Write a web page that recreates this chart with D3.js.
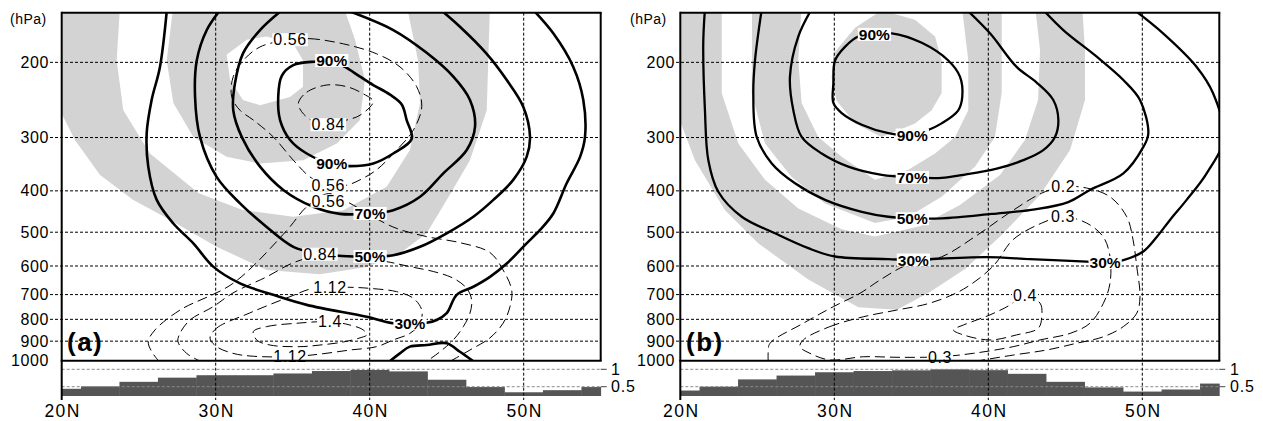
<!DOCTYPE html>
<html><head><meta charset="utf-8">
<script src="https://cdn.jsdelivr.net/npm/d3@7"></script>
<style>body{margin:0;background:#fff}svg{display:block}</style>
</head><body>
<svg id="c" width="1263" height="421"></svg>
<script>
// ---------------- data ----------------
const pressureTicks = [200,300,400,500,600,700,800,900,1000];
const latTicks = [20,30,40,50];
const latTickLabels = ["20N","30N","40N","50N"];
const stripTicks = [1,0.5];
const stripTickLabels = ["1","0.5"];
const barLats = [20,22.5,25,27.5,30,32.5,35,37.5,40,42.5,45,47.5,50,52.5,55];
const barsA = [0.44,0.51,0.64,0.76,0.83,0.83,0.88,0.95,0.98,0.94,0.70,0.49,0.34,0.40,0.49];
const barsB = [0.39,0.50,0.71,0.82,0.915,0.95,0.97,1.0,0.975,0.87,0.64,0.48,0.36,0.42,0.59];

// shading polygons [lat, hPa]
const aShadeOuter = [[19.89,147],[19.89,259],[20.86,304],[22.49,367],[24.65,420],[26.82,463],[30.06,541],[33.31,613],[36.77,627],[39.81,603],[41.97,560],[43.70,503],[45.0,420],[46.51,339],[47.60,259],[47.81,147],
  [42.40,147],[43.14,198],[43.27,249],[42.61,321],[41.10,391],[38.29,444],[35.04,460],[31.79,444],[28.9,405],[25.73,327],[24.0,259],[23.57,198],[23.79,147]];
const aShadeInnerRing = [[27.25,147],[26.82,198],[27.25,249],[28.55,299],[30.71,333],[32.88,345],[35.69,339],[37.86,310],[39.37,273],[39.69,220],[39.05,177],[38.27,147]];
const aShadeInnerHole = [[30.71,192],[32.01,177],[33.31,174],[35.04,181],[35.67,198],[35.67,228],[34.82,241],[32.88,252],[31.77,245],[30.93,220]];
const bShadeOuter = [[19.72,147],[19.72,259],[20.95,339],[22.90,444],[25.06,531],[28.31,645],[31.56,750],[34.07,760],[36.21,690],[38.49,610],[40.76,512],[43.36,409],[45.31,321],[46.28,245],[46.28,187],[46.09,147],
  [43.03,147],[43.36,187],[43.23,245],[42.38,304],[40.76,367],[38.16,432],[35.56,484],[32.64,512],[30.48,492],[27.66,440],[25.50,377],[23.77,310],[22.69,236],[22.69,147]];
const bShadeInnerRing = [[24.66,147],[24.64,236],[25.50,310],[27.23,371],[29.40,428],[32.64,476],[34.81,460],[36.97,413],[39.14,351],[40.43,299],[40.87,236],[40.87,147],
  [38.27,147],[38.70,198],[38.70,259],[37.84,299],[36.54,327],[34.81,357],[32.64,377],[30.48,333],[28.96,299],[27.88,249],[27.66,198],[27.88,147]];
const bShadeCore = [[29.83,218],[29.94,191],[31.35,166],[33.08,151],[35.24,159],[36.54,174],[36.97,198],[36.97,236],[36.32,259],[35.24,278],[33.08,299],[31.35,278],[30.15,246]];

// panel (a) solid contours
const aC90 = [[37.53,198],[38.40,205],[39.37,216],[40.23,226],[41.32,238],[42.08,251],[42.40,273],[42.73,302],[41.53,327],[40.23,345],[38.72,350],[37.53,346],[35.91,327],[34.83,304],[34.18,273],[34.06,241],[34.29,215],[35.04,203],[36.56,199]];
const aC70 = [[34.39,150],[32.88,168],[31.79,190],[31.25,224],[31.14,259],[31.69,299],[32.88,351],[34.39,398],[36.34,436],[38.07,453],[40.02,452],[41.53,444],[43.27,413],[44.78,364],[46.30,321],[46.84,283],[46.51,245],[45.43,216],[43.70,190],[41.53,168],[38.51,151]];
const aC50 = [[30.28,151],[29.42,168],[28.77,198],[28.66,241],[28.98,299],[30.06,371],[31.58,428],[33.31,486],[35.04,541],[36.56,560],[38.94,570],[40.02,570],[41.53,566],[43.27,541],[45.0,503],[46.73,460],[48.03,420],[49.32,377],[50.19,333],[50.41,299],[49.97,254],[48.90,220],[47.60,191],[45.86,165],[44.35,148]];
const aC30 = [[26.85,148],[26.38,205],[25.84,245],[25.52,293],[25.62,351],[26.17,420],[27.25,477],[28.55,531],[29.84,602],[31.58,659],[33.74,701],[35.91,740],[39.81,789],[41.53,817],[42.61,817],[43.70,815],[44.35,803],[45.0,774],[45.65,701],[46.73,671],[47.81,636],[48.90,592],[50.19,531],[51.06,494],[51.92,452],[52.79,384],[53.66,333],[53.98,299],[53.87,245],[53.22,205],[51.92,171],[50.41,148]];
const aC10 = [[41.2,1010],[41.96,961],[42.61,927],[43.70,919],[45.0,910],[45.86,953],[46.85,1010]];
// panel (a) dashed contours
const aD056u = [[34.83,177],[36.12,176],[38.29,181],[40.45,191],[41.97,205],[43.05,228],[43.38,254],[42.84,288],[41.75,321],[40.45,357],[39.37,377],[38.51,388],[37.31,391],[36.12,371],[35.04,339],[33.74,299],[32.44,273],[31.58,259],[31.04,241],[31.14,216],[31.79,198],[32.88,184]];
const aD084u = [[35.37,249],[35.91,235],[37.21,226],[38.51,228],[39.58,237],[40.23,247],[39.37,266],[38.51,273],[37.31,280],[36.34,275],[35.58,261]];
const aD056l = [[26.38,1010],[25.86,954],[25.62,902],[26.06,847],[27.68,761],[31.12,659],[34.6,496],[35.91,436],[37.31,406],[38.51,424],[41.51,486],[43.70,512],[45.86,529],[47.81,558],[48.66,613],[49.22,683],[49.11,747],[48.66,817],[47.81,884],[46.51,944],[45.08,1010]];
const aD084l = [[29.19,1010],[28.11,961],[27.55,902],[27.68,863],[28.33,803],[29.84,747],[31.12,694],[33.31,636],[35.02,590],[36.77,566],[38.40,568],[41.10,586],[42.61,602],[44.13,618],[45.43,641],[46.30,677],[46.62,721],[46.51,774],[46.08,832],[45.43,894],[44.56,953],[43.59,1010]];
const aD112 = [[29.63,885],[30.06,839],[32.21,773],[34.82,708],[36.45,675],[38.72,673],[40.02,677],[41.75,689],[42.83,714],[43.38,761],[43.27,817],[42.61,863],[41.53,894],[40.45,927],[38.72,944],[36.77,965],[34.83,979],[32.23,975],[31.12,961],[30.06,927]];
const aD140 = [[32.44,855],[33.31,832],[35.47,816],[37.42,810],[38.72,825],[39.58,847],[39.81,870],[39.37,884],[38.29,904],[36.77,919],[35.47,927],[33.53,919],[32.66,894]];

// panel (b) solid contours
const bC90 = [[32.60,172],[33.73,171],[35.68,180],[37.40,198],[38.16,216],[38.31,241],[38.05,259],[36.97,278],[36.10,288],[35.06,296],[33.51,293],[31.78,280],[30.48,263],[29.94,249],[29.94,224],[30.05,198],[30.69,184],[31.56,174]];
const bC70 = [[28.53,150],[27.66,174],[27.12,216],[27.34,259],[27.88,299],[29.18,327],[30.91,351],[33.08,367],[35.06,372],[36.97,373],[38.38,367],[40.55,355],[42.27,339],[43.57,321],[44.33,299],[44.55,273],[44.22,245],[43.14,223],[41.84,205],[40.11,171],[38.38,148]];
const bC50 = [[25.29,150],[24.85,198],[24.74,236],[24.96,299],[25.94,345],[27.45,384],[29.40,420],[31.78,448],[33.51,460],[35.06,464],[36.97,464],[40.22,453],[43.03,442],[45.19,425],[46.60,398],[48.77,364],[50.06,316],[50.39,294],[49.85,245],[48.77,220],[47.04,194],[44.87,168],[43.36,148]];
const bC30 = [[21.60,150],[21.49,181],[21.60,259],[21.82,339],[22.47,402],[23.99,460],[26.15,503],[28.31,545],[30.05,570],[33.51,578],[35.13,581],[36.21,578],[39.90,572],[42.71,578],[46.39,586],[47.58,589],[48.77,581],[50.06,555],[50.94,513],[51.80,468],[52.88,420],[54.18,364],[55.3,300],[54.59,236],[53.53,205],[51.35,171],[49.19,148]];
// panel (b) dashed contours
const bD02 = [[25.71,1010],[25.71,952],[25.82,911],[27.99,817],[29.94,747],[31.67,695],[32.97,647],[34.70,597],[36.97,571],[39.14,512],[41.30,452],[43.47,405],[44.87,391],[46.39,394],[47.90,413],[48.99,460],[49.40,521],[49.64,602],[49.85,708],[49.64,774],[48.77,832],[47.47,879],[45.74,910],[43.79,944],[41.62,970],[39.03,1005]];
const bD03 = [[27.99,894],[29.71,832],[31.88,789],[34.05,761],[36.21,733],[38.38,680],[40.32,600],[41.62,520],[43.47,476],[44.85,460],[46.39,476],[47.47,513],[47.90,570],[47.90,659],[47.47,734],[46.60,817],[45.31,863],[43.36,894],[41.62,927],[39.03,961],[36.86,979],[34.27,982],[31.88,979],[29.71,996],[28.42,961],[27.77,927]];
const bD04 = [[42.38,705],[43.36,733],[43.47,789],[43.25,839],[41.84,870],[40.11,894],[38.38,870],[37.73,847],[38.38,825],[40.11,781],[41.41,740],[41.95,713]];

// contour labels [lat, hPa, text]
const aSolidLabels = [[37.53,198,"90%"],[37.53,346,"90%"],[40.02,452,"70%"],[40.02,570,"50%"],[42.61,817,"30%"]];
const aDashLabels = [[34.83,177,"0.56"],[37.31,280,"0.84"],[37.31,423,"0.56"],[37.31,388,"0.56"],[36.77,563,"0.84"],[37.42,673,"1.12"],[37.42,810,"1.4"],[34.83,979,"1.12"]];
const bSolidLabels = [[32.6,172,"90%"],[35.06,296,"90%"],[35.06,372,"70%"],[35.06,465,"50%"],[35.13,581,"30%"],[47.58,589,"30%"]];
const bDashLabels = [[44.87,391,"0.2"],[44.85,460,"0.3"],[42.38,705,"0.4"],[36.86,981,"0.3"]];

// ---------------- drawing ----------------
const W = 1263, H = 421;
const yTop = 12.7, yBot = 360.7, yStripBot = 396;
const pTop = 153;
const FONT = '"Liberation Sans", Arial, sans-serif';
const svg = d3.select('#c');
svg.append('rect').attr('width', W).attr('height', H).attr('fill', '#fff');
const defs = svg.append('defs');

const panels = [
  {id:'a', x0:61.7, x1:600.7, labRight:49, tickLeft:50, hpaX:10, letter:'(a)', letterX:67, stripLabX:611,
   shadeU:[aShadeOuter], shadeRings:[[aShadeInnerRing, aShadeInnerHole]], shadeCore:[],
   solid:[aC70,aC50,aC30,aC10], solidClosed:[aC90], dashed:[aD056l,aD084l], dashedClosed:[aD056u,aD084u,aD112,aD140],
   solidLabels:aSolidLabels, dashLabels:aDashLabels, bars:barsA, solidW:2.6},
  {id:'b', x0:680.3, x1:1219.3, labRight:675, tickLeft:676, hpaX:630, letter:'(b)', letterX:686, stripLabX:1230,
   shadeU:[bShadeOuter, bShadeInnerRing], shadeRings:[], shadeCore:[bShadeCore],
   solid:[bC70,bC50,bC30], solidClosed:[bC90], dashed:[bD02], dashedClosed:[bD03,bD04],
   solidLabels:bSolidLabels, dashLabels:bDashLabels, bars:barsB, solidW:2.3}
];

function labelBox(g, px, py, text, opts){
  const t = g.append('text').attr('x', px).attr('y', py)
    .attr('text-anchor','middle').attr('dominant-baseline','central')
    .attr('font-family', FONT).attr('font-size', opts.size).attr('font-weight', opts.weight)
    .attr('letter-spacing', opts.ls || 0).attr('fill','#000').text(text);
  const bb = t.node().getBBox();
  g.insert('rect', function(){ return t.node(); })
    .attr('x', bb.x - 1).attr('y', bb.y + opts.padTop).attr('width', bb.width + 2).attr('height', bb.height - opts.padTop - opts.padBot)
    .attr('fill','#fff');
}

panels.forEach(cfg => {
  const x = d3.scaleLinear().domain([20,55]).range([cfg.x0, cfg.x1]);
  const y = d3.scaleLog().domain([1000, pTop]).range([yBot, yTop]);
  const ys = d3.scaleLinear().domain([0.233, 1.247]).range([yStripBot, yBot]);
  const g = svg.append('g');

  defs.append('clipPath').attr('id','clip'+cfg.id).append('rect')
    .attr('x', x(20)).attr('y', yTop).attr('width', x(55)-x(20)).attr('height', yBot-yTop);
  const plot = g.append('g').attr('clip-path', `url(#clip${cfg.id})`);

  const ring = r => 'M' + r.map(d => x(d[0]).toFixed(2)+','+y(d[1]).toFixed(2)).join('L') + 'Z';
  const SH = '#d3d3d3';
  cfg.shadeU.forEach(p => plot.append('path').attr('d', ring(p)).attr('fill', SH));
  cfg.shadeRings.forEach(rs => plot.append('path').attr('d', rs.map(ring).join('')).attr('fill', SH).attr('fill-rule','evenodd'));
  cfg.shadeCore.forEach(p => plot.append('path').attr('d', ring(p)).attr('fill', SH));

  // strip bars
  const sg = g.append('g');
  cfg.bars.forEach((v,i) => {
    const la = barLats[i];
    const l = Math.max(20, la-1.25), r = Math.min(55, la+1.25);
    sg.append('rect').attr('x', x(l)).attr('y', ys(v)).attr('width', x(r)-x(l)+0.4).attr('height', yStripBot-ys(v)).attr('fill','#555');
  });
  stripTicks.forEach((v,i) => {
    sg.append('line').attr('x1', x(20)).attr('x2', x(55)).attr('y1', ys(v)).attr('y2', ys(v))
      .attr('stroke','#8a8a8a').attr('stroke-width',1).attr('stroke-dasharray','3,2');
    sg.append('line').attr('x1', x(55)).attr('x2', x(55)+6).attr('y1', ys(v)).attr('y2', ys(v))
      .attr('stroke','#444').attr('stroke-width',1);
    sg.append('text').attr('x', cfg.stripLabX).attr('y', ys(v)).attr('dominant-baseline','central')
      .attr('font-family', FONT).attr('font-size', 16).attr('letter-spacing',0.8).text(stripTickLabels[i]);
  });

  // grid
  const gg = g.append('g').attr('stroke','#000').attr('stroke-width',1).attr('stroke-dasharray','3,2').attr('fill','none');
  pressureTicks.filter(p => p < 1000).forEach(p => {
    gg.append('line').attr('x1', cfg.tickLeft).attr('x2', x(55)).attr('y1', y(p)).attr('y2', y(p));
  });
  latTicks.filter(l => l > 20).forEach(l => {
    gg.append('line').attr('x1', x(l)).attr('x2', x(l)).attr('y1', yTop).attr('y2', 400);
  });

  // contours
  const lineOpen = d3.line().x(d => x(d[0])).y(d => y(d[1])).curve(d3.curveCatmullRom.alpha(0.5));
  const lineClosed = d3.line().x(d => x(d[0])).y(d => y(d[1])).curve(d3.curveCatmullRomClosed.alpha(0.5));
  const dashStyle = s => s.attr('fill','none').attr('stroke','#000').attr('stroke-width',1).attr('stroke-dasharray','10,5');
  cfg.dashed.forEach(c => dashStyle(plot.append('path').attr('d', lineOpen(c))));
  cfg.dashedClosed.forEach(c => dashStyle(plot.append('path').attr('d', lineClosed(c))));
  const solidStyle = s => s.attr('fill','none').attr('stroke','#000').attr('stroke-width', cfg.solidW).attr('stroke-linejoin','round');
  cfg.solid.forEach(c => solidStyle(plot.append('path').attr('d', lineOpen(c))));
  cfg.solidClosed.forEach(c => solidStyle(plot.append('path').attr('d', lineClosed(c))));

  // labels
  const lg = g.append('g');
  cfg.dashLabels.forEach(d => labelBox(lg, x(d[0]), y(d[1]), d[2], {size:16, weight:'normal', ls:0.6, padTop:2, padBot:2}));
  cfg.solidLabels.forEach(d => labelBox(lg, x(d[0]), y(d[1]), d[2], {size:15.5, weight:'bold', ls:0, padTop:2, padBot:2}));

  // frame
  const fg = g.append('g').attr('stroke','#000').attr('stroke-width',2).attr('fill','none');
  fg.append('line').attr('x1', x(20)).attr('x2', x(55)+1).attr('y1', yTop).attr('y2', yTop);
  fg.append('line').attr('x1', x(55)).attr('x2', x(55)).attr('y1', yTop).attr('y2', yBot);
  fg.append('line').attr('x1', x(20)-1).attr('x2', x(55)+1).attr('y1', yBot).attr('y2', yBot);
  fg.append('line').attr('x1', x(20)).attr('x2', x(20)).attr('y1', yTop-1).attr('y2', 400);

  // axis labels
  pressureTicks.forEach(p => {
    g.append('text').attr('x', cfg.labRight).attr('y', y(p)).attr('text-anchor','end').attr('dominant-baseline','central')
      .attr('font-family', FONT).attr('font-size', 16).attr('letter-spacing',0.6).text(p);
  });
  g.append('text').attr('x', cfg.hpaX).attr('y', 24).attr('font-family', FONT).attr('font-size', 14).attr('letter-spacing',0.5).text('(hPa)');
  latTicks.forEach((l,i) => {
    g.append('text').attr('x', x(l)+1).attr('y', 416.5).attr('text-anchor','middle')
      .attr('font-family', FONT).attr('font-size', 17.5).attr('letter-spacing',1.5).text(latTickLabels[i]);
  });
  g.append('text').attr('x', cfg.letterX).attr('y', 350.5).attr('font-family', FONT).attr('font-size', 26)
    .attr('font-weight','bold').attr('letter-spacing',1.5).text(cfg.letter);
});
</script>
</body></html>
